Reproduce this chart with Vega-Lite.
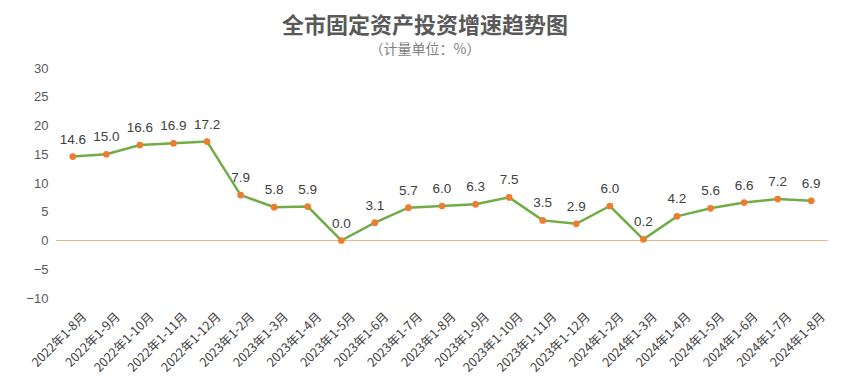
{
  "$schema": "https://vega.github.io/schema/vega-lite/v6.json",
  "autosize": {"type": "none"},
  "width": 772,
  "height": 230,
  "padding": {"left": 56, "top": 68, "right": 21, "bottom": 85},
  "background": "white",
  "title": {
    "text": "全市固定资产投资增速趋势图",
    "subtitle": "（计量单位：%）",
    "anchor": "middle",
    "dx": -17,
    "offset": 4,
    "font": "Noto Sans CJK SC",
    "fontSize": 22,
    "fontWeight": "bold",
    "color": "#595959",
    "subtitleFont": "Noto Sans CJK SC",
    "subtitleFontSize": 14,
    "subtitleFontWeight": "normal",
    "subtitleColor": "#7f7f7f",
    "subtitlePadding": 5
  },
  "data": {
    "values": [
      {"period": "2022年1-8月", "value": 14.6},
      {"period": "2022年1-9月", "value": 15.0},
      {"period": "2022年1-10月", "value": 16.6},
      {"period": "2022年1-11月", "value": 16.9},
      {"period": "2022年1-12月", "value": 17.2},
      {"period": "2023年1-2月", "value": 7.9},
      {"period": "2023年1-3月", "value": 5.8},
      {"period": "2023年1-4月", "value": 5.9},
      {"period": "2023年1-5月", "value": 0.0},
      {"period": "2023年1-6月", "value": 3.1},
      {"period": "2023年1-7月", "value": 5.7},
      {"period": "2023年1-8月", "value": 6.0},
      {"period": "2023年1-9月", "value": 6.3},
      {"period": "2023年1-10月", "value": 7.5},
      {"period": "2023年1-11月", "value": 3.5},
      {"period": "2023年1-12月", "value": 2.9},
      {"period": "2024年1-2月", "value": 6.0},
      {"period": "2024年1-3月", "value": 0.2},
      {"period": "2024年1-4月", "value": 4.2},
      {"period": "2024年1-5月", "value": 5.6},
      {"period": "2024年1-6月", "value": 6.6},
      {"period": "2024年1-7月", "value": 7.2},
      {"period": "2024年1-8月", "value": 6.9}
    ]
  },
  "encoding": {
    "x": {
      "field": "period",
      "type": "ordinal",
      "sort": null,
      "scale": {"type": "point", "padding": 0.5},
      "axis": {
        "title": null,
        "domain": false,
        "ticks": false,
        "labelAngle": -45,
        "labelFont": "Noto Sans CJK SC",
        "labelFontSize": 12.5,
        "labelColor": "#404040",
        "labelPadding": 12,
        "labelOffset": 7
      }
    },
    "y": {
      "field": "value",
      "type": "quantitative",
      "scale": {"domain": [-10, 30], "nice": false},
      "axis": {
        "title": null,
        "domain": false,
        "ticks": false,
        "grid": false,
        "values": [-10, -5, 0, 5, 10, 15, 20, 25, 30],
        "labelFont": "Liberation Sans",
        "labelFontSize": 13,
        "labelColor": "#595959",
        "labelPadding": 8
      }
    }
  },
  "layer": [
    {
      "mark": {"type": "rule", "color": "#f4b183", "strokeWidth": 1},
      "encoding": {"y": {"datum": 0}, "x": null}
    },
    {
      "mark": {"type": "line", "color": "#70ad47", "strokeWidth": 2.5}
    },
    {
      "mark": {"type": "point", "filled": true, "color": "#ed7d31", "size": 45, "opacity": 1}
    },
    {
      "mark": {"type": "text", "dy": -17, "font": "Liberation Sans", "fontSize": 13.5, "color": "#404040"},
      "encoding": {"text": {"field": "value", "type": "quantitative", "format": ".1f"}}
    }
  ],
  "config": {"view": {"stroke": null}}
}
